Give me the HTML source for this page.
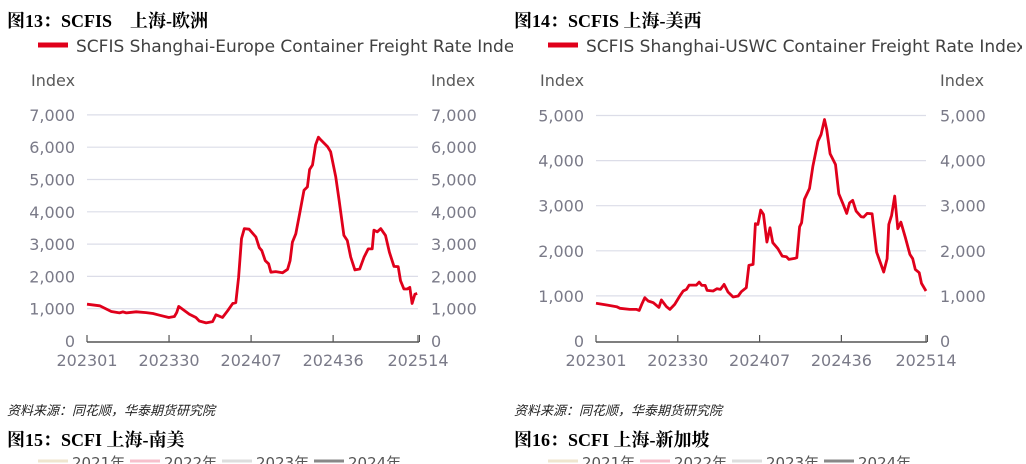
<!DOCTYPE html>
<html><head><meta charset="utf-8">
<style>
body{margin:0;width:1026px;height:464px;overflow:hidden;background:#fff;font-family:"Liberation Sans","Noto Sans CJK SC",sans-serif;position:relative}
.t{position:absolute;white-space:nowrap}
.title{font-size:18px;font-weight:bold;color:#000;font-family:"Liberation Serif","Noto Serif CJK SC",serif}
.src{font-size:13px;font-style:italic;color:#222}
svg text{font-family:"DejaVu Sans","Liberation Sans",sans-serif}
</style></head><body>
<div class="t title" style="left:7px;top:7px">图13：SCFIS &nbsp;&nbsp; 上海-欧洲</div>
<div class="t title" style="left:514px;top:7px">图14：SCFIS 上海-美西</div>
<div class="t src" style="left:7px;top:400px">资料来源：同花顺，华泰期货研究院</div>
<div class="t src" style="left:514px;top:400px">资料来源：同花顺，华泰期货研究院</div>
<div class="t title" style="left:7px;top:426px">图15：SCFI 上海-南美</div>
<div class="t title" style="left:514px;top:426px">图16：SCFI 上海-新加坡</div>
<svg width="1026" height="464" style="position:absolute;left:0;top:0" id="svg">
<g font-size="15" fill="#555">
<line x1="38" y1="461" x2="68" y2="461" stroke="#efe6cf" stroke-width="3"/><text x="72" y="468">2021年</text>
<line x1="130" y1="461" x2="160" y2="461" stroke="#f6c0cc" stroke-width="3"/><text x="164" y="468">2022年</text>
<line x1="222" y1="461" x2="252" y2="461" stroke="#ddd" stroke-width="3"/><text x="256" y="468">2023年</text>
<line x1="314" y1="461" x2="344" y2="461" stroke="#888" stroke-width="3"/><text x="348" y="468">2024年</text>
<line x1="548" y1="461" x2="578" y2="461" stroke="#efe6cf" stroke-width="3"/><text x="582" y="468">2021年</text>
<line x1="640" y1="461" x2="670" y2="461" stroke="#f6c0cc" stroke-width="3"/><text x="674" y="468">2022年</text>
<line x1="732" y1="461" x2="762" y2="461" stroke="#ddd" stroke-width="3"/><text x="766" y="468">2023年</text>
<line x1="824" y1="461" x2="854" y2="461" stroke="#888" stroke-width="3"/><text x="858" y="468">2024年</text>
</g>
</svg>
<script>
const tickLabels=["202301","202330","202407","202436","202514"];
const tickWeeks=[0,29,58,87,117];
// chart 13: week index and SCFIS Europe values
const euWeeks=[0,4.5,8.6,11.5,12.7,13.9,17.4,20.9,23.3,25.6,28.9,30.9,31.7,32.4,36.2,38.5,39.7,42.1,44.4,45.6,47.9,49.7,51.5,52.6,53.6,54.6,55.6,57.3,59.7,60.9,61.8,63,64.2,65,66.7,69.1,70.9,71.8,72.6,73.8,75.2,76.7,77.9,78.7,79.7,80.8,81.8,82.6,85,86.1,87.9,89.1,90.8,92,93.2,94.7,96.4,97.9,99.4,100.8,101.4,102.6,103.8,105.5,106.9,108.5,110,110.8,112,113.2,114.1,114.9,115.9,116.7];
const euValues=[1140,1090,913,870,900,870,903,880,850,800,727,760,880,1070,830,727,620,560,600,810,727,935,1160,1190,1970,3170,3480,3460,3220,2890,2800,2490,2390,2130,2150,2110,2220,2490,3060,3320,3950,4670,4770,5310,5450,6070,6310,6230,6020,5860,5090,4360,3270,3110,2600,2200,2230,2590,2850,2850,3430,3380,3480,3270,2750,2310,2300,1870,1610,1610,1660,1160,1450,1470];
// chart 14: SCFIS USWC values
const wcWeeks=[0,3.8,7.3,8.5,12,14.4,15.3,16.2,17.3,18.5,20.3,22.3,23.2,25,26.2,27.9,29.7,30.9,32.1,33,35.6,36.6,37.5,38.7,39.4,41.5,42.9,44.1,45.4,46.8,48.6,50.4,51.5,53.3,54.2,55.7,56.5,57.4,58.4,59.4,60.6,61.7,62.7,64.5,66,67.5,68.4,70.4,71.2,72.2,72.9,73.9,75.7,76.9,78.7,79.8,81,81.8,83,84.9,86.1,87.5,88.9,89.9,91,92.2,94,94.9,96.1,97.9,99.5,102,103.2,103.8,104.8,105.9,107,108.1,109.7,111.3,112.3,113.2,114.6,115.4,117];
const wcValues=[835,798,760,724,700,700,679,812,960,886,849,746,908,760,700,812,997,1108,1145,1240,1240,1307,1233,1233,1122,1108,1160,1145,1255,1086,975,997,1093,1182,1676,1699,2600,2585,2902,2806,2193,2511,2179,2046,1883,1869,1810,1832,1846,2533,2622,3139,3382,3877,4431,4579,4911,4690,4150,3914,3264,3050,2829,3065,3117,2880,2755,2747,2829,2821,1972,1529,1824,2585,2784,3213,2489,2637,2290,1920,1824,1588,1514,1278,1108];
const NS='http://www.w3.org/2000/svg';
const svg=document.getElementById('svg');
function mk(tag,attrs,parent){const e=document.createElementNS(NS,tag);for(const k in attrs)e.setAttribute(k,attrs[k]);(parent||svg).appendChild(e);return e;}
function drawChart(o){
  const g=mk('g',{});
  
  
  const xS=w=>o.x0+(o.x1-o.x0)*w/117;
  const yS=v=>o.y0-(o.y0-o.yTop)*v/o.yMax;
  const lg=mk('g',{},g);
  
  
  mk('line',{x1:o.lx,y1:45,x2:o.lx+30,y2:45,stroke:'#e0001b','stroke-width':5},lg);
  const lt=mk('text',{x:o.lx+38,y:52,'font-size':17,fill:'#404040'},lg);lt.textContent=o.legend;
  mk('rect',{x:o.clip,y:30,width:60,height:30,fill:'#fff'},g);
  const il=mk('text',{x:o.ilx,y:86,'font-size':16,fill:'#595959'},g);il.textContent='Index';
  
  
  const ir=mk('text',{x:o.rx,y:86,'font-size':16,fill:'#595959'},g);ir.textContent='Index';
  
  
  for(let v=0;v<=o.yMax;v+=1000){
    const y=yS(v);
    if(v>0){const gl=mk('line',{x1:o.x0,y1:y,x2:o.x1,y2:y,stroke:'#dcdde8','stroke-width':1.2},g);
      
      }
    const lab=v===0?'0':v.toLocaleString('en-US');
    const a=mk('text',{x:o.x0-12,y:y+6,'font-size':16,fill:'#7a7a88','text-anchor':'end'},g);a.textContent=lab;
    
    
    const b=mk('text',{x:o.rx,y:y+6,'font-size':16,fill:'#7a7a88'},g);b.textContent=lab;
    
    
  }
  const ax=mk('line',{x1:o.x0,y1:o.y0+1,x2:o.x1+1,y2:o.y0+1,stroke:'#555','stroke-width':1.5},g);
  
  
  tickWeeks.forEach((w,i)=>{
    const x=xS(w);
    mk('line',{x1:x,y1:o.y0-6,x2:x,y2:o.y0+1,stroke:'#555','stroke-width':1.2},g);
    const t=mk('text',{x:x,y:o.y0+25,'font-size':16,fill:'#7a7a88','text-anchor':'middle'},g);t.textContent=tickLabels[i];
    
    
  });
  mk('line',{x1:o.x1+1.5,y1:o.y0-6,x2:o.x1+1.5,y2:o.y0+1,stroke:'#555','stroke-width':1},g);
  const d=o.weeks.map((w,i)=>(i?'L':'M')+xS(w).toFixed(1)+','+yS(o.values[i]).toFixed(1)).join(' ');
  const p=mk('path',{d:d,fill:'none',stroke:'#e0001b','stroke-width':2.8,'stroke-linejoin':'round'},g);
  
  
}
drawChart({name:'chart13-europe',x0:87,x1:418,y0:341,yTop:114.9,yMax:7000,lx:38,ilx:31,rx:431,clip:513,
  legend:'SCFIS Shanghai-Europe Container Freight Rate Index',weeks:euWeeks,values:euValues});
drawChart({name:'chart14-uswc',x0:596,x1:926,y0:341,yTop:115.5,yMax:5000,lx:548,ilx:540,rx:940,clip:1022,
  legend:'SCFIS Shanghai-USWC Container Freight Rate Index',weeks:wcWeeks,values:wcValues});
</script>
</body></html>
